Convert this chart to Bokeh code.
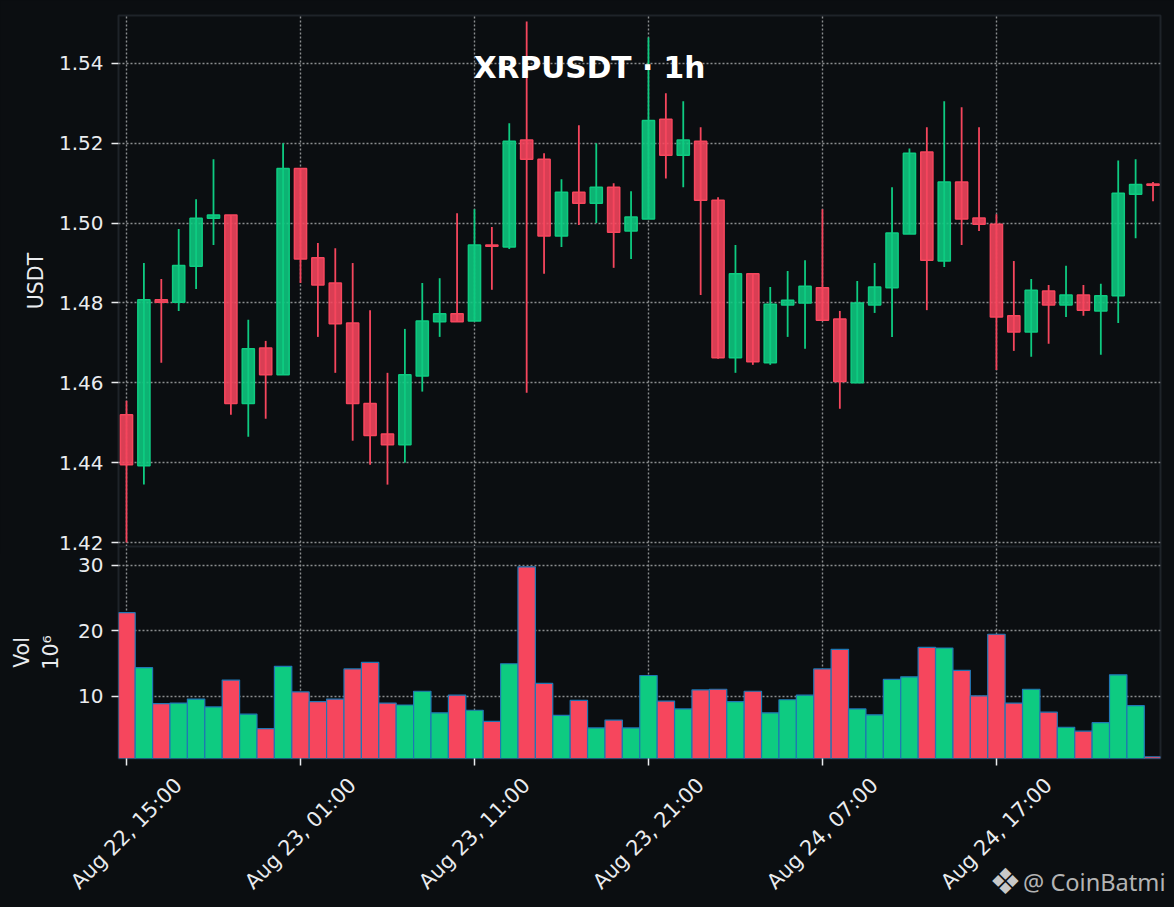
from bokeh.plotting import figure, ColumnDataSource
from bokeh.layouts import column
from bokeh.models import Range1d, FixedTicker, Label, LabelSet, NumeralTickFormatter, GlobalInlineStyleSheet
from bokeh.core.properties import value
from bokeh.embed import file_html
from bokeh.resources import INLINE

opens = [1.4520,1.4392,1.4808,1.4802,1.4892,1.5012,1.5020,1.4548,1.4687,1.4620,1.5137,1.4913,1.4850,1.4750,1.4548,1.4472,1.4445,1.4617,1.4753,1.4773,
         1.4755,1.4945,1.4940,1.5208,1.5160,1.4968,1.5077,1.5050,1.5090,1.4980,1.5010,1.5260,1.5170,1.5205,1.5057,1.4663,1.4873,1.4650,1.4795,1.4800,
         1.4838,1.4760,1.4600,1.4795,1.4838,1.4973,1.5178,1.4905,1.5103,1.5013,1.4997,1.4768,1.4727,1.4830,1.4795,1.4820,1.4780,1.4818,1.5072,1.5098]
closes = [1.4395,1.4808,1.4802,1.4894,1.5012,1.5020,1.4548,1.4685,1.4620,1.5137,1.4910,1.4845,1.4748,1.4548,1.4468,1.4445,1.4620,1.4755,1.4773,1.4753,
          1.4945,1.4942,1.5205,1.5160,1.4968,1.5077,1.5050,1.5090,1.4977,1.5015,1.5257,1.5170,1.5208,1.5057,1.4663,1.4873,1.4653,1.4797,1.4807,1.4842,
          1.4757,1.4603,1.4800,1.4840,1.4975,1.5175,1.4907,1.5103,1.5010,1.4997,1.4765,1.4727,1.4832,1.4795,1.4820,1.4782,1.4818,1.5075,1.5097,1.5095]
highs = [1.4555,1.4900,1.4860,1.4985,1.5060,1.5160,1.5020,1.4758,1.4705,1.5200,1.5137,1.4950,1.4937,1.4900,1.4782,1.4625,1.4735,1.4850,1.4862,1.5025,
         1.5035,1.4990,1.5250,1.5505,1.5175,1.5110,1.5245,1.5200,1.5100,1.5080,1.5465,1.5325,1.5305,1.5240,1.5065,1.4945,1.4873,1.4840,1.4880,1.4907,
         1.5035,1.4780,1.4855,1.4900,1.5090,1.5187,1.5240,1.5305,1.5290,1.5240,1.5022,1.4905,1.4860,1.4845,1.4893,1.4845,1.4848,1.5157,1.5160,1.5103]
lows = [1.4200,1.4345,1.4650,1.4780,1.4835,1.4945,1.4520,1.4465,1.4510,1.4620,1.4850,1.4715,1.4625,1.4455,1.4395,1.4345,1.4400,1.4578,1.4715,1.4755,
        1.4755,1.4833,1.4935,1.4575,1.4873,1.4940,1.4995,1.5000,1.4888,1.4910,1.5010,1.5112,1.5090,1.4820,1.4660,1.4625,1.4645,1.4645,1.4715,1.4685,
        1.4755,1.4535,1.4600,1.4775,1.4715,1.4973,1.4782,1.4890,1.4945,1.4980,1.4632,1.4680,1.4665,1.4698,1.4765,1.4768,1.4670,1.4750,1.4962,1.5055]
volumes = [22.8,14.4,8.9,9.0,9.6,8.4,12.5,7.3,5.1,14.6,10.7,9.2,9.6,14.2,15.2,9.0,8.7,10.8,7.5,10.2,
           7.9,6.2,15.0,29.8,12.0,7.1,9.4,5.2,6.4,5.2,13.2,9.3,8.1,11.0,11.1,9.2,10.8,7.5,9.5,10.2,
           14.2,17.2,8.1,7.2,12.6,13.0,17.5,17.4,14.0,10.1,19.5,9.0,11.1,7.6,5.3,4.7,6.0,13.3,8.6,0.8]
tick_idx = [0,10,20,30,40,50]
tick_labels = ["Aug 22, 15:00","Aug 23, 01:00","Aug 23, 11:00","Aug 23, 21:00","Aug 24, 07:00","Aug 24, 17:00"]
price_ticks = [1.42,1.44,1.46,1.48,1.50,1.52,1.54]
vol_ticks = [10,20,30]

BG = "#0b0e11"; GREEN = "#0ecb81"; RED = "#f6465d"; TXT = "#eaecef"; EDGE = "#1e2329"; GRID = "#8b8d8f"
FONT = "DejaVu Sans"
idx = list(range(len(opens)))
colors = [GREEN if c >= o else RED for o, c in zip(opens, closes)]
tops = [max(o, c) for o, c in zip(opens, closes)]
bots = [min(o, c) for o, c in zip(opens, closes)]
src = ColumnDataSource(dict(x=idx, h=highs, l=lows, v=volumes, col=colors, top=tops, bot=bots))
x_lo, x_hi = -0.46, 59.43
x_range = Range1d(x_lo, x_hi)
FRAME_L, FRAME_R, PAGE_W = 118, 14, 1174
scale = (PAGE_W - FRAME_L - FRAME_R) / (x_hi - x_lo)

def style(p, yticks, fmt=None):
    p.background_fill_color = BG
    p.border_fill_color = BG
    p.outline_line_color = EDGE
    p.outline_line_width = 2
    p.xgrid.ticker = FixedTicker(ticks=tick_idx)
    p.ygrid.ticker = FixedTicker(ticks=yticks)
    for g in (p.xgrid, p.ygrid):
        g.grid_line_color = GRID
        g.grid_line_dash = "2 2"
        g.grid_line_width = 1.4
    ax = p.yaxis[0]
    ax.ticker = FixedTicker(ticks=yticks)
    ax.axis_line_color = None
    ax.major_tick_line_color = TXT
    ax.major_tick_line_width = 1.5
    ax.major_tick_in = 0
    ax.major_tick_out = 7
    ax.minor_tick_line_color = None
    ax.major_label_text_color = TXT
    ax.major_label_text_font = FONT
    ax.major_label_text_font_size = "20px"
    ax.major_label_standoff = 8
    ax.axis_label_text_color = TXT
    ax.axis_label_text_font = FONT
    ax.axis_label_text_font_size = "20.5px"
    ax.axis_label_text_font_style = "normal"
    if fmt:
        ax.formatter = NumeralTickFormatter(format=fmt)

p1 = figure(width=PAGE_W, height=554, x_range=x_range, y_range=Range1d(1.4190, 1.5520),
            output_backend="svg", toolbar_location=None, tools="", margin=(0, 0, -8, 0),
            min_border_left=FRAME_L, min_border_right=FRAME_R, min_border_top=15, min_border_bottom=8)
style(p1, price_ticks, "0.00")
p1.xaxis.visible = False
p1.yaxis[0].axis_label = "USDT"
p1.yaxis[0].axis_label_standoff = 8
p1.segment("x", "h", "x", "l", source=src, line_color="col", line_width=1.8)
p1.vbar("x", width=0.7, top="top", bottom="bot", source=src, fill_color="col", fill_alpha=0.88,
        line_color="col", line_width=1.5)
p1.add_layout(Label(x=471, y=479, x_units="screen", y_units="screen", text="XRPUSDT · 1h",
                    text_color="#ffffff", text_font=FONT, text_font_style="bold", text_font_size="29.7px",
                    text_align="center", text_baseline="middle"))

p2 = figure(width=PAGE_W, height=361, x_range=x_range, y_range=Range1d(0.53, 32.9),
            output_backend="svg", toolbar_location=None, tools="", margin=(0, 0, -149, 0),
            min_border_left=FRAME_L, min_border_right=FRAME_R, min_border_top=0, min_border_bottom=149)
style(p2, vol_ticks)
p2.border_fill_color = None
ax = p2.xaxis[0]
ax.ticker = FixedTicker(ticks=tick_idx)
ax.axis_line_color = None
ax.major_tick_line_color = TXT
ax.major_tick_line_width = 1.5
ax.major_tick_in = 0
ax.major_tick_out = 7
ax.minor_tick_line_color = None
ax.major_label_text_font_size = "0px"
ax.major_label_text_color = None
p2.yaxis[0].axis_label = "Vol\n10⁶"
p2.yaxis[0].axis_label_standoff = 12
p2.vbar("x", width=1.0, top="v", bottom=0, source=src, fill_color="col", line_color="#1f77b4", line_width=1.2)

# transparent strip over the space under the volume panel: rotated tick labels and the watermark
p3 = figure(width=PAGE_W, height=149, x_axis_type=None, y_axis_type=None, frame_align=False,
            x_range=Range1d(x_lo - FRAME_L / scale, x_hi + FRAME_R / scale), y_range=Range1d(0, 149),
            output_backend="svg", toolbar_location=None, tools="", margin=(0, 0, 0, 0),
            min_border_left=0, min_border_right=0, min_border_top=0, min_border_bottom=0)
p3.background_fill_color = None
p3.border_fill_color = None
p3.outline_line_color = None
lab_src = ColumnDataSource(dict(x=tick_idx, y=[74] * len(tick_idx), t=tick_labels))
p3.add_layout(LabelSet(x="x", y="y", text="t", source=lab_src, x_units="data", y_units="screen",
                       angle=45, angle_units="deg", text_align="center", text_baseline="middle",
                       text_color=TXT, text_font_size="20.8px", text_font=value(FONT)))
p3.add_layout(Label(x=1005, y=26, x_units="screen", y_units="screen", text="❖", text_color="#c8c8c8",
                    text_font=FONT, text_font_size="36px", text_align="center", text_baseline="middle"))
p3.add_layout(Label(x=1165, y=26, x_units="screen", y_units="screen", text="@ CoinBatmi", text_color="#b4b4b4",
                    text_font="Noto Sans", text_font_size="23.6px", text_align="right", text_baseline="middle"))

sheet = GlobalInlineStyleSheet(css="html,body{background:#0b0e11;margin:0;padding:0;overflow:hidden}")
page = column(p1, p2, p3, spacing=0, stylesheets=[sheet])
open("out.html", "w").write(file_html(page, INLINE))
